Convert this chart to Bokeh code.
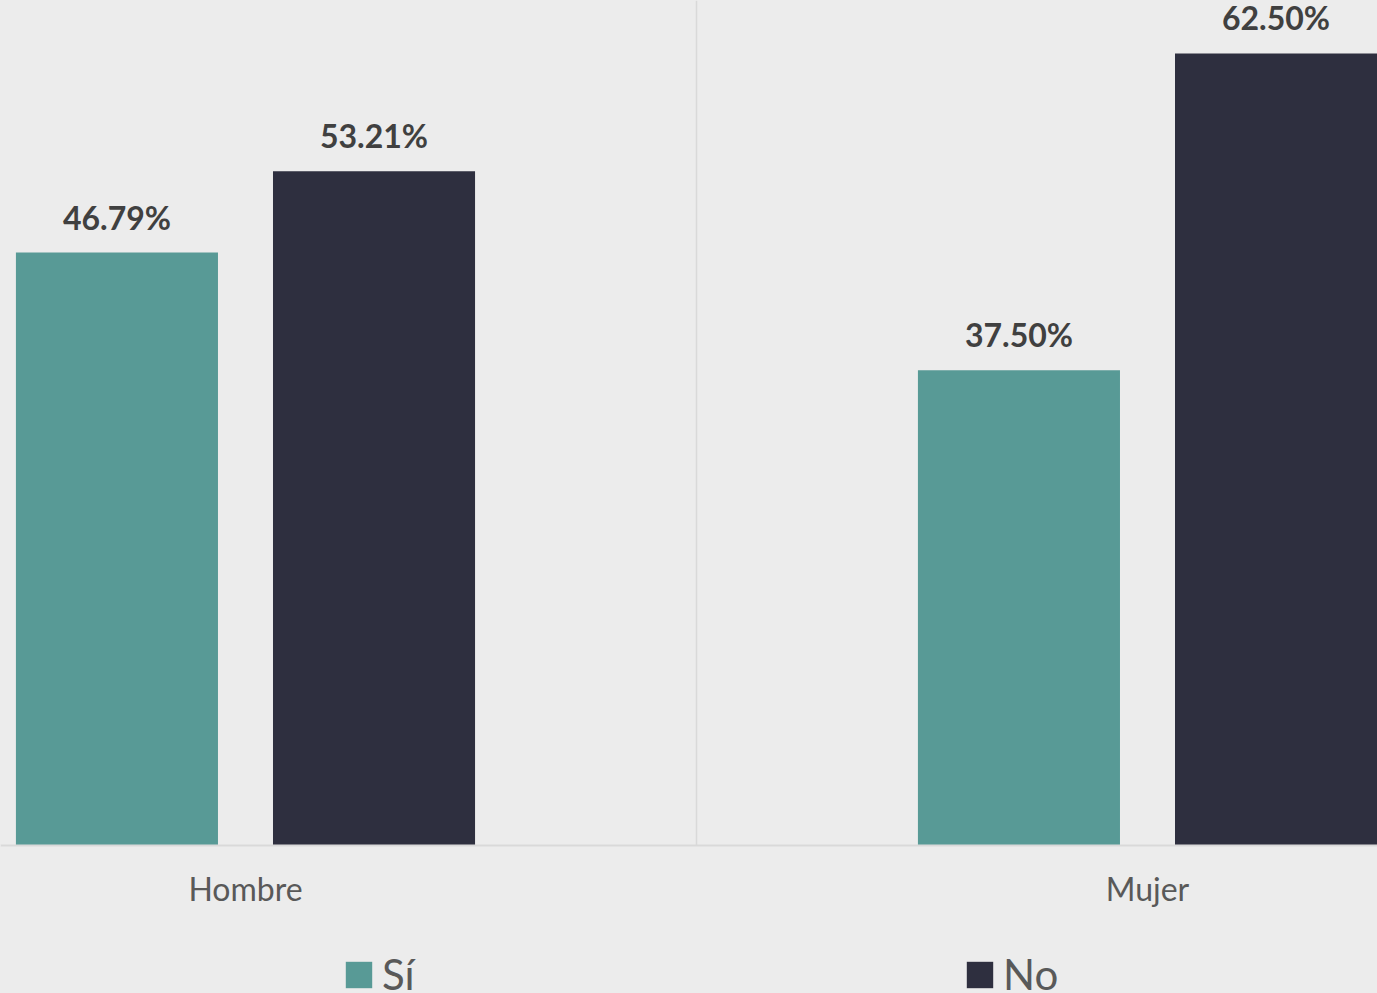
from bokeh.plotting import figure
from bokeh.models import (Range1d, FixedTicker, LinearAxis, Legend, LegendItem,
                          ColumnDataSource, LabelSet)
from bokeh.core.properties import value
from bokeh.embed import file_html
from bokeh.resources import INLINE

# ---- data ----
categories = ["Hombre", "Mujer"]
series_names = ["Sí", "No"]
si_values = [46.79, 37.50]
no_values = [53.21, 62.50]

# ---- style / layout ----
colors = ["#589a96", "#2e2f3f"]
bg = "#ececec"
font = "Lato"
page_w, page_h = 1377, 993
baseline_px = 845          # pixel row of the zero line
y_top = 66.68              # value at the top edge
y_bottom = -(page_h - baseline_px) * y_top / baseline_px

cat_pos = [i + 0.5 for i in range(len(categories))]
separators = [i + 1.0 for i in range(len(categories) - 1)]
offset = 0.1425
bar_w = 0.224
legend_x = [342, 963]
legend_y = -6

p = figure(frame_width=page_w, frame_height=page_h, output_backend="svg",
           toolbar_location=None, x_range=Range1d(0.2284, 1.7550),
           y_range=Range1d(y_bottom, y_top), y_axis_location=None, x_axis_location=None,
           min_border=0, background_fill_color=bg, border_fill_color=bg,
           outline_line_color=None)
p.xgrid.visible = False
p.ygrid.visible = False

# category separator line(s)
p.segment(x0=separators, y0=[0] * len(separators), x1=separators,
          y1=[y_top] * len(separators), line_color="#d9d9d9", line_width=1.5)

renderers = []
for vals, off, col in [(si_values, -offset, colors[0]), (no_values, offset, colors[1])]:
    src = ColumnDataSource(dict(x=[c + off for c in cat_pos], top=vals,
                                lab=[f"{v:.2f}%" for v in vals]))
    r = p.vbar(x="x", top="top", bottom=0, width=bar_w, source=src,
               fill_color=col, line_color=None)
    renderers.append(r)
    p.add_layout(LabelSet(x="x", y="top", text="lab", source=src, y_offset=23,
                          text_align="center", text_baseline="alphabetic",
                          text_font=value(font), text_font_style="bold",
                          text_font_size="32px", text_color="#404040"))

xaxis = LinearAxis(ticker=FixedTicker(ticks=cat_pos), fixed_location=0,
                   major_label_overrides={c: n for c, n in zip(cat_pos, categories)})
xaxis.major_tick_line_color = None
xaxis.minor_tick_line_color = None
xaxis.axis_line_color = "#d9d9d9"
xaxis.axis_line_width = 2
xaxis.major_label_text_font = font
xaxis.major_label_text_font_size = "32px"
xaxis.major_label_text_color = "#595959"
xaxis.major_label_standoff = 17
p.add_layout(xaxis, "below")

for name, r, lx in zip(series_names, renderers, legend_x):
    lg = Legend(items=[LegendItem(label=name, renderers=[r])],
                orientation="horizontal", location=(lx, legend_y),
                label_text_font=font, label_text_font_size="42px",
                label_text_color="#595959", glyph_width=33, glyph_height=33,
                label_standoff=7, padding=0, margin=0,
                background_fill_alpha=0, border_line_color=None)
    p.add_layout(lg, "center")

html = file_html(p, INLINE)
html = html.replace("<head>", "<head><style>html,body{margin:0;padding:0;overflow:hidden;background:#ececec;}</style>", 1)
open("out.html", "w").write(html)
